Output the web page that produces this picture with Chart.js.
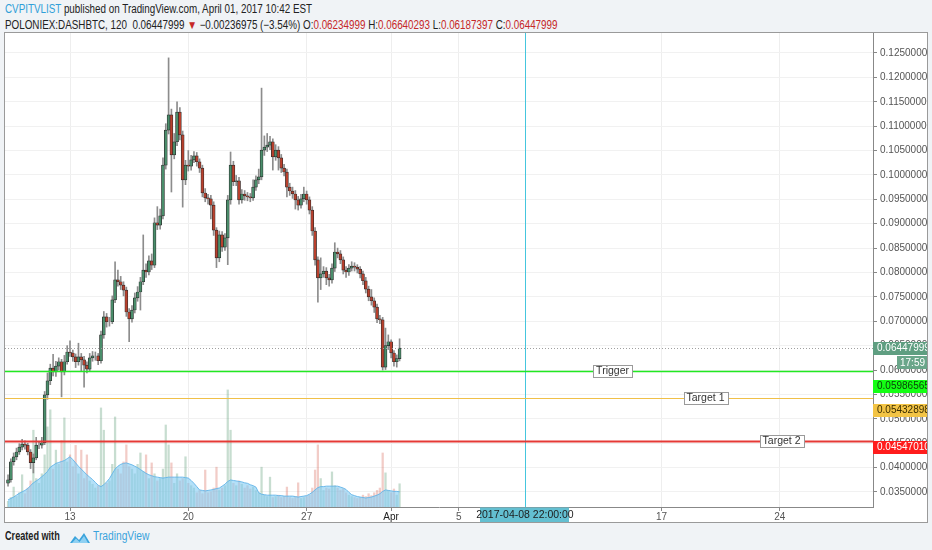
<!DOCTYPE html>
<html>
<head>
<meta charset="utf-8">
<script src="https://cdn.jsdelivr.net/npm/chart.js@4.4.1/dist/chart.umd.min.js"></script>
<style>
  html, body { margin: 0; padding: 0; width: 932px; height: 550px; overflow: hidden; background: #f0f3f6; }
  .hdr { position: absolute; left: 5px; font-family: "Liberation Sans", Arial, sans-serif; font-size: 12px; color: #222; white-space: nowrap; transform: scaleX(0.82); transform-origin: 0 0; }
  #l1 { top: 2px; }
  #l2 { top: 18px; }
  .blue { color: #2f9fd8; }
  .red { color: #c62828; }
  #card { position: absolute; left: 4px; top: 32px; width: 922px; height: 489px; border: 1px solid #9a9a9a; background: #fff; }
  #foot { position: absolute; left: 5px; top: 529px; height: 16px; font-family: "Liberation Sans", Arial, sans-serif; white-space: nowrap; }
  #foot .cw { position: absolute; left: 0; top: 0; font-size: 12px; font-weight: bold; color: #222; transform: scaleX(0.76); transform-origin: 0 0; }
  #foot svg { position: absolute; left: 64px; top: 2px; }
  #foot .tv { position: absolute; left: 88px; top: 0; font-size: 12.5px; color: #3aa3dc; transform: scaleX(0.82); transform-origin: 0 0; }
</style>
</head>
<body>
<div class="hdr" id="l1"><span class="blue">CVPITVLIST</span> published on TradingView.com, April 01, 2017 10:42 EST</div>
<div class="hdr" id="l2">POLONIEX:DASHBTC, 120&nbsp; 0.06447999 <span class="red">▼</span> −0.00236975 (−3.54%) O:<span class="red">0.06234999</span> H:<span class="red">0.06640293</span> L:<span class="red">0.06187397</span> C:<span class="red">0.06447999</span></div>
<div id="card"><canvas id="chart"></canvas></div>
<div id="foot">
  <span class="cw">Created with</span>
  <svg width="22" height="13" viewBox="0 0 22 13"><path d="M1 12 L6 5 L10 9 L15 2 L21 12 Z" fill="#3aa3dc"/><path d="M3 12 L7 7.5 L10.5 11 L15 5 L19 12 Z" fill="#8fd0f2"/></svg>
  <span class="tv">TradingView</span>
</div>
<script>
// 4h candles starting 2017-03-09 08:00, x axis in "day of March" (Apr 1 = 32)
const candleStart = Date.UTC(2017, 2, 9, 8);
const stepHours = 4;
const firstOpen = 0.0368;

const closes = [
  0.0375, 0.0412, 0.0422, 0.0432, 0.0442, 0.0448, 0.0446, 0.0432, 0.0410, 0.0420,
  0.0446, 0.0446, 0.0451, 0.0549, 0.0578, 0.0604, 0.0596, 0.0608, 0.0617, 0.0596,
  0.0617, 0.0637, 0.0635, 0.0627, 0.0617, 0.0627, 0.0621, 0.0610, 0.0602, 0.0625,
  0.0629, 0.0629, 0.0619, 0.0672, 0.0709, 0.0699, 0.0699, 0.0744, 0.0785, 0.0781,
  0.0774, 0.0764, 0.0719, 0.0705, 0.0723, 0.0748, 0.0760, 0.0781, 0.0805, 0.0801,
  0.0824, 0.0815, 0.0902, 0.0897, 0.0916, 0.1020, 0.1092, 0.1123, 0.1041, 0.1068,
  0.1129, 0.1082, 0.0990, 0.1020, 0.1018, 0.1031, 0.1039, 0.1027, 0.1014, 0.0963,
  0.0953, 0.0951, 0.0938, 0.0887, 0.0830, 0.0877, 0.0852, 0.0871, 0.0949, 0.1020,
  0.0986, 0.0988, 0.0949, 0.0961, 0.0957, 0.0955, 0.0953, 0.0975, 0.0990, 0.0996,
  0.1051, 0.1057, 0.1061, 0.1068, 0.1037, 0.1051, 0.1035, 0.1014, 0.1006, 0.0975,
  0.0967, 0.0961, 0.0949, 0.0938, 0.0951, 0.0961, 0.0949, 0.0928, 0.0885, 0.0826,
  0.0789, 0.0797, 0.0803, 0.0789, 0.0785, 0.0809, 0.0842, 0.0838, 0.0826, 0.0805,
  0.0801, 0.0809, 0.0813, 0.0811, 0.0807, 0.0797, 0.0783, 0.0766, 0.0750, 0.0742,
  0.0729, 0.0705, 0.0703, 0.0606, 0.0650, 0.0658, 0.0635, 0.0617, 0.06235, 0.06447999
];
const highs = [
  0.0385, 0.0418, 0.0430, 0.0440, 0.0449, 0.0458, 0.0455, 0.0450, 0.0437, 0.0428,
  0.0462, 0.0454, 0.0462, 0.0556, 0.0594, 0.0612, 0.0632, 0.0618, 0.0625, 0.0622,
  0.0630, 0.0650, 0.0660, 0.0641, 0.0633, 0.0655, 0.0634, 0.0628, 0.0617, 0.0634,
  0.0638, 0.0637, 0.0634, 0.0680, 0.0720, 0.0716, 0.0708, 0.0752, 0.0822, 0.0805,
  0.0792, 0.0781, 0.0770, 0.0726, 0.0732, 0.0758, 0.0771, 0.0790, 0.0877, 0.0818,
  0.0834, 0.0838, 0.0912, 0.0935, 0.0930, 0.1035, 0.1105, 0.1240, 0.1135, 0.1085,
  0.1150, 0.1138, 0.1090, 0.1030, 0.1050, 0.1040, 0.1048, 0.1046, 0.1033, 0.1020,
  0.0972, 0.0960, 0.0958, 0.0945, 0.0892, 0.0885, 0.0884, 0.0880, 0.0958, 0.1047,
  0.1028, 0.0999, 0.0995, 0.0970, 0.0968, 0.0964, 0.0962, 0.0990, 0.0998, 0.1012,
  0.1178, 0.1080, 0.1085, 0.1079, 0.1074, 0.1062, 0.1058, 0.1042, 0.1022, 0.1012,
  0.0983, 0.0975, 0.0968, 0.0956, 0.0960, 0.0975, 0.0967, 0.0955, 0.0935, 0.0892,
  0.0832, 0.0830, 0.0812, 0.0810, 0.0796, 0.0818, 0.0861, 0.0850, 0.0845, 0.0832,
  0.0812, 0.0816, 0.0822, 0.0820, 0.0816, 0.0812, 0.0803, 0.0790, 0.0772, 0.0765,
  0.0748, 0.0735, 0.0712, 0.0708, 0.0686, 0.0672, 0.0662, 0.0640, 0.0631, 0.06640293
];
const lows = [
  0.0362, 0.0370, 0.0405, 0.0416, 0.0427, 0.0436, 0.0438, 0.0426, 0.0398, 0.0389,
  0.0416, 0.0439, 0.0440, 0.0447, 0.0540, 0.0570, 0.0588, 0.0587, 0.0600, 0.0545,
  0.0590, 0.0612, 0.0628, 0.0618, 0.0605, 0.0610, 0.0598, 0.0565, 0.0594, 0.0597,
  0.0618, 0.0620, 0.0611, 0.0614, 0.0665, 0.0688, 0.0690, 0.0695, 0.0738, 0.0772,
  0.0765, 0.0752, 0.0710, 0.0658, 0.0698, 0.0717, 0.0741, 0.0723, 0.0775, 0.0790,
  0.0795, 0.0806, 0.0810, 0.0888, 0.0889, 0.0910, 0.1012, 0.1084, 0.0965, 0.1033,
  0.1060, 0.1072, 0.0934, 0.0980, 0.1008, 0.1010, 0.1025, 0.1018, 0.1005, 0.0955,
  0.0945, 0.0940, 0.0910, 0.0876, 0.0810, 0.0822, 0.0843, 0.0845, 0.0816, 0.0940,
  0.0978, 0.0978, 0.0940, 0.0942, 0.0948, 0.0947, 0.0945, 0.0948, 0.0968, 0.0982,
  0.0990, 0.1040, 0.1048, 0.1052, 0.1010, 0.1030, 0.1010, 0.1005, 0.0998, 0.0955,
  0.0958, 0.0952, 0.0930, 0.0928, 0.0932, 0.0945, 0.0940, 0.0920, 0.0876, 0.0815,
  0.0739, 0.0765, 0.0790, 0.0775, 0.0772, 0.0778, 0.0802, 0.0830, 0.0818, 0.0797,
  0.0790, 0.0794, 0.0803, 0.0803, 0.0799, 0.0789, 0.0775, 0.0758, 0.0742, 0.0733,
  0.0718, 0.0697, 0.0695, 0.0600, 0.0601, 0.0642, 0.0625, 0.0608, 0.0606, 0.06187397
];
const volumes = [
  12, 20, 42, 22, 30, 68, 28, 40, 55, 162,
  60, 50, 70, 110, 169, 205, 80, 120, 90, 140,
  188, 95, 110, 85, 130, 70, 120, 60, 110, 55,
  48, 40, 45, 209, 162, 50, 55, 90, 190, 80,
  70, 95, 131, 85, 80, 70, 90, 114, 75, 110,
  60, 93, 70, 55, 60, 80, 173, 131, 93, 50,
  70, 55, 60, 106, 50, 45, 40, 30, 35, 28,
  78, 30, 32, 40, 84, 35, 40, 45, 247, 162,
  50, 45, 55, 48, 40, 45, 38, 42, 35, 30,
  84, 25, 22, 63, 20, 22, 25, 20, 22, 42,
  20, 18, 22, 51, 18, 20, 22, 25, 40, 78,
  131, 60, 35, 40, 38, 74, 45, 40, 35, 38,
  30, 25, 22, 20, 18, 20, 25, 22, 28, 24,
  30, 35, 40, 114, 72, 35, 30, 38, 25, 49
];
const volumeMA = [
  15, 18, 21, 25, 29, 32, 35, 39, 45, 51,
  55, 59, 64, 69, 75, 84, 88, 92, 94, 96,
  98, 102, 106, 100, 93, 86, 80, 74, 68, 63,
  58, 52, 46, 43, 47, 53, 60, 70, 80, 86,
  90, 92, 93, 91, 89, 86, 83, 79, 75, 71,
  68, 66, 64, 63, 62, 61, 62, 63, 63, 63,
  63, 63, 63, 62, 61, 56, 50, 43, 36, 35,
  34, 35, 36, 37, 39, 40, 44, 48, 54, 57,
  56, 55, 54, 53, 51, 50, 47, 45, 42, 30,
  27, 26, 25, 25, 25, 25, 24, 24, 23, 23,
  23, 23, 22, 21, 22, 23, 24, 27, 31, 36,
  41, 43, 43, 44, 44, 44, 44, 44, 42, 40,
  37, 31, 26, 24, 22, 21, 20, 19, 20, 21,
  23, 25, 28, 33, 36, 35, 34, 33, 33, 32
];

const priceTicks = [0.035, 0.04, 0.045, 0.05, 0.055, 0.06, 0.065, 0.07, 0.075, 0.08,
  0.085, 0.09, 0.095, 0.1, 0.105, 0.11, 0.115, 0.12, 0.125];
const dayTicks = [13, 20, 27, 32, 36, 48, 55];
const dayLabels = ["13", "20", "27", "Apr", "5", "17", "24"];

const lastPrice = 0.06447999;
const levelNames = ["Trigger", "Target 1", "Target 2"];
const levelValues = [0.05986565, 0.05432898, 0.04547010];
const crossTime = Date.UTC(2017, 3, 8, 22);
const crossLabel = "2017-04-08 22:00:00";
const countdown = "17:59";

// helpers
const marchDay = ms => (ms - Date.UTC(2017, 1, 28)) / 864e5;
const times = closes.map((c, i) => marchDay(candleStart + i * stepHours * 3600e3));
const opens = closes.map((c, i) => i === 0 ? firstOpen : closes[i - 1]);
const isUp = closes.map((c, i) => c >= opens[i]);

const levelColors = ["#22e822", "#f0c048", "#e53935"];
const levelWidths = [1.5, 1.2, 2];
const tagColors = ["#14ff14", "#f3c445", "#ff1c1c"];
const tagText = ["#0b3d0b", "#3a2d00", "#ffffff"];
const tagShift = [15, 12, 6];
const labelDays = [45.1, 50.6, 55.1];

const overlays = {
  id: "overlays",
  afterDatasetsDraw(chart) {
    const { ctx, chartArea: a, scales: { x, y } } = chart;
    ctx.save();
    ctx.beginPath();
    ctx.rect(a.left, a.top, a.width, a.height);
    ctx.clip();

    const seg = (x1, y1, x2, y2) => { ctx.beginPath(); ctx.moveTo(x1, y1); ctx.lineTo(x2, y2); ctx.stroke(); };

    // last price dotted line
    const py = Math.round(y.getPixelForValue(lastPrice)) + 0.5;
    ctx.setLineDash([1, 2]);
    ctx.strokeStyle = "#a0a0a0";
    ctx.lineWidth = 1;
    seg(a.left, py, a.right, py);
    ctx.setLineDash([]);

    // crosshair
    const cx = Math.round(x.getPixelForValue(marchDay(crossTime))) + 0.5;
    ctx.strokeStyle = "#45c6de";
    seg(cx, a.top, cx, a.bottom);

    // level lines
    levelValues.forEach((v, i) => {
      const ly = Math.round(y.getPixelForValue(v)) + 0.5;
      ctx.strokeStyle = levelColors[i];
      ctx.lineWidth = levelWidths[i];
      seg(a.left, ly, a.right, ly);
    });

    // level labels
    ctx.font = '10.5px "Liberation Sans", Arial, sans-serif';
    ctx.textAlign = "center";
    ctx.textBaseline = "middle";
    levelNames.forEach((n, i) => {
      const lx = x.getPixelForValue(labelDays[i]);
      const ly = Math.round(y.getPixelForValue(levelValues[i]));
      const w = Math.round(ctx.measureText(n).width + 6);
      const h = 12;
      const bx = Math.round(lx - w / 2) + 0.5, by = ly - h / 2 + 0.5;
      ctx.fillStyle = "#fff";
      ctx.fillRect(bx, by, w, h);
      ctx.strokeStyle = "#9a9a9a";
      ctx.lineWidth = 1;
      ctx.strokeRect(bx, by, w, h);
      ctx.fillStyle = "#333";
      ctx.fillText(n, lx, ly + 0.5);
    });
    ctx.restore();
  },
  afterDraw(chart) {
    const { ctx, chartArea: a, scales: { x, y } } = chart;
    const W = chart.width;
    ctx.save();
    ctx.font = '10px "Liberation Sans", Arial, sans-serif';
    ctx.textBaseline = "middle";
    ctx.textAlign = "left";
    const tag = (cy, bg, fg, txt) => {
      ctx.fillStyle = bg;
      ctx.fillRect(a.right, Math.round(cy - 6.5), W - a.right, 13);
      ctx.fillStyle = fg;
      ctx.fillText(txt, a.right + 4, cy + 0.5);
    };
    const py = Math.round(y.getPixelForValue(lastPrice));
    tag(py, "#5f9e81", "#fff", lastPrice.toFixed(8));
    ctx.fillStyle = "#6aa68a";
    ctx.fillRect(W - 30, py + 8, 30, 13);
    ctx.fillStyle = "#fff";
    ctx.fillText(countdown, W - 27, py + 15);
    levelValues.forEach((v, i) => {
      tag(Math.round(y.getPixelForValue(v)) + tagShift[i], tagColors[i], tagText[i], v.toFixed(8));
    });

    // crosshair time label
    const cx = x.getPixelForValue(marchDay(crossTime));
    ctx.fillStyle = "#63bfd1";
    ctx.fillRect(Math.round(cx - 45), a.bottom + 0.5, 89, 15);
    ctx.fillStyle = "#1c1c1c";
    ctx.textAlign = "center";
    ctx.font = '10.5px "Liberation Sans", Arial, sans-serif';
    ctx.fillText(crossLabel, cx, a.bottom + 8);
    ctx.restore();
  }
};

new Chart(document.getElementById("chart"), {
  type: "bar",
  data: {
    datasets: [
      {
        label: "Bodies",
        data: times.map((t, i) => ({ x: t, y: [opens[i], closes[i]] })),
        yAxisID: "y",
        backgroundColor: isUp.map(u => u ? "#4a8e6b" : "#b8402d"),
        borderColor: "#2a2a2a",
        borderWidth: 0.7,
        borderSkipped: false,
        barThickness: 3,
        grouped: false,
        order: 0,
      },
      {
        label: "Wicks",
        data: times.map((t, i) => ({ x: t, y: [lows[i], highs[i]] })),
        yAxisID: "y",
        backgroundColor: "#8c8c8c",
        barThickness: 1,
        grouped: false,
        order: 1,
      },
      {
        type: "line",
        label: "Volume MA",
        data: times.map((t, i) => ({ x: t, y: volumeMA[i] })),
        yAxisID: "vol",
        borderColor: "rgba(98,180,232,0.9)",
        backgroundColor: "rgba(130,203,243,0.6)",
        borderWidth: 1,
        pointRadius: 0,
        tension: 0,
        fill: "origin",
        order: 3,
      },
      {
        label: "Volume",
        data: times.map((t, i) => ({ x: t, y: volumes[i] })),
        yAxisID: "vol",
        backgroundColor: isUp.map(u => u ? "rgba(107,165,131,0.38)" : "rgba(215,100,86,0.33)"),
        barThickness: 1.6,
        grouped: false,
        order: 4,
      },
    ],
  },
  options: {
    responsive: true,
    maintainAspectRatio: false,
    animation: false,
    events: [],
    layout: { padding: 0, autoPadding: false },
    plugins: { legend: { display: false }, tooltip: { enabled: false } },
    scales: {
      x: {
        type: "linear",
        min: 9.154,
        max: 60.51,
        offset: false,
        grid: { offset: false, color: "#eeeeee", tickLength: 4, tickColor: "#888" },
        border: { color: "#888" },
        afterBuildTicks: s => { s.ticks = dayTicks.map(v => ({ value: v })); },
        afterFit: s => { s.height = 15; s.paddingLeft = 0; s.paddingRight = 0; },
        ticks: {
          autoSkip: false,
          maxRotation: 0,
          padding: 0,
          color: c => dayLabels[c.index] === "Apr" ? "#222" : "#555",
          font: { family: '"Liberation Sans", Arial, sans-serif', size: 10 },
          callback: (v, i) => dayLabels[i],
        },
      },
      y: {
        position: "right",
        min: 0.03192,
        max: 0.1291,
        grid: { color: "#f1f1f1", tickLength: 4, tickColor: "#888" },
        border: { color: "#888" },
        afterBuildTicks: s => { s.ticks = priceTicks.map(v => ({ value: v })); },
        afterFit: s => { s.width = 54; s.paddingTop = 0; s.paddingBottom = 0; },
        ticks: {
          padding: 3,
          color: "#555",
          font: { family: '"Liberation Sans", Arial, sans-serif', size: 10 },
          callback: v => v.toFixed(8),
        },
      },
      vol: { display: false, min: 0, max: 1000 },
    },
  },
  plugins: [overlays],
});
</script>
</body>
</html>
